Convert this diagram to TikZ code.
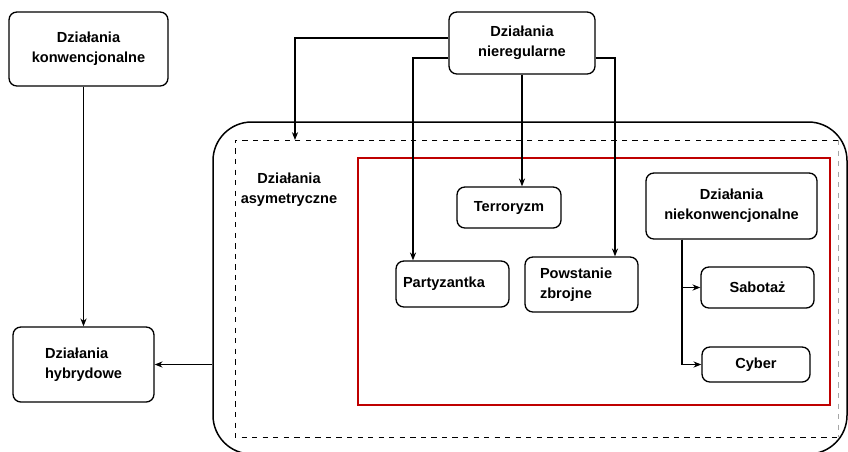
\documentclass[tikz,border=0pt]{standalone}
\usepackage{fontspec}
\setmainfont{Liberation Sans}
\usetikzlibrary{arrows.meta}
\begin{document}
\begin{tikzpicture}[x=0.02cm,y=-0.02cm,
  txt/.style={font=\bfseries\fontsize{8.3}{11.3}\selectfont, align=center},
  box/.style={txt, draw, rounded corners=4.5pt, line width=0.75pt, inner sep=0pt},
  dims/.style 2 args={minimum width=#1*0.02cm, minimum height=#2*0.02cm},
  arr/.style={-{Stealth[length=4.5pt,width=3.5pt]}, line width=0.6pt},
  redframe/.style={draw=red!75!black, line width=0.9pt},
  dashframe/.style={dashed, line width=0.5pt}]
\useasboundingbox (0,0) rectangle (848,451);
\fill[white] (0,0) rectangle (848,451);

% big rounded container
\node[draw, line width=0.85pt, rounded corners=22pt, dims={634}{332}] (big) at (530,288) {};
% dashed frame
\draw[dashframe] (838,140) -- (235,140) -- (235,437) -- (838,437);
\draw[dashframe, gray!70] (838,140) -- (838,437);
% red frame
\draw[redframe] (358,158) rectangle (830,405);

% nodes
\node[box, dims={159}{74}] (konw) at (88.5,49) {Działania\\konwencjonalne};
\node[box, dims={141}{75}, align=left] (hybr) at (83.5,364.5) {Działania\\hybrydowe};
\node[box, dims={146}{62}] (nier) at (522,43) {Działania\\nieregularne};
\node[txt] (asym) at (289,190) {Działania\\asymetryczne};
\node[box, dims={104}{41}] (terr) at (509,207.5) {Terroryzm};
\node[box, dims={171}{66}] (niek) at (731.5,206) {Działania\\niekonwencjonalne};
\node[box, dims={113}{46}, align=left, text width=1.98cm, inner xsep=0.14cm] (party) at (452.5,284) {Partyzantka};
\node[box, dims={113}{55}, align=left, text width=1.66cm, inner xsep=0.3cm] (pow) at (581.5,284.5) {Powstanie\\zbrojne};
\node[box, dims={113}{41}] (sab) at (757.5,287.5) {Sabotaż};
\node[box, dims={108}{35}] (cyb) at (756,364.5) {Cyber};

% helper coordinates
\coordinate (y38) at (0,38);
\coordinate (y58) at (0,58);
\coordinate (dtop) at (295,140);
\coordinate (pa) at (413,0);
\coordinate (pw) at (615,0);
\coordinate (nk) at (682,0);

% connectors
\draw[arr] (konw.south -| hybr.north) -- (hybr.north);
\draw[arr] (nier.west |- y38) -| (dtop);
\draw[arr] (nier.west |- y58) -| (party.north -| pa);
\draw[arr] (nier.south) -- (nier.south |- terr.north);
\draw[arr] (nier.east |- y58) -| (pow.north -| pw);
\draw[arr] (niek.south -| nk) |- (sab.west);
\draw[arr] (niek.south -| nk) |- (cyb.west);
\draw[arr] (big.west |- hybr.east) -- (hybr.east);
\end{tikzpicture}
\end{document}
